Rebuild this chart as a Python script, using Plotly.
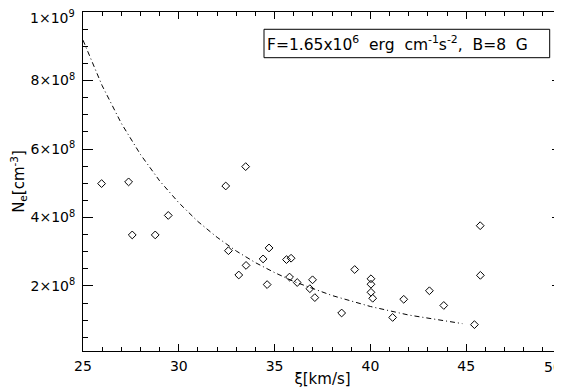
import plotly.graph_objects as go

# Observed points
xi_obs = [25.97, 27.38, 27.57, 28.77, 29.45, 32.45, 33.49, 32.59, 33.51, 33.13,
          34.40, 34.71, 34.61, 35.62, 35.86, 35.78, 36.18, 36.98, 36.84, 37.10,
          38.50, 39.18, 40.03, 40.03, 40.03, 40.12, 41.16, 41.74, 43.08, 43.83,
          45.43, 45.74, 45.73]
ne_obs = [4.99e8, 5.04e8, 3.49e8, 3.49e8, 4.06e8, 4.92e8, 5.485e8, 3.03e8, 2.60e8, 2.32e8,
          2.79e8, 3.11e8, 2.04e8, 2.77e8, 2.81e8, 2.26e8, 2.10e8, 2.18e8, 1.92e8, 1.66e8,
          1.21e8, 2.48e8, 2.21e8, 2.05e8, 1.815e8, 1.64e8, 1.08e8, 1.61e8, 1.86e8, 1.43e8,
          0.87e8, 2.31e8, 3.76e8]

# Model curve
xi_model = [25, 26, 27, 28, 29, 30, 31, 32, 33, 34, 35, 36, 38, 40, 42, 44, 44.8]
ne_model = [9.18e8, 7.85e8, 6.75e8, 5.84e8, 5.07e8, 4.43e8, 3.88e8, 3.42e8, 3.02e8, 2.68e8,
            2.39e8, 2.13e8, 1.72e8, 1.40e8, 1.15e8, 0.96e8, 0.90e8]

y_tickvals = [2e8, 4e8, 6e8, 8e8, 1e9]
y_ticktext = ["2×10<sup>8</sup>", "4×10<sup>8</sup>", "6×10<sup>8</sup>", "8×10<sup>8</sup>", ""]
y_top_label = "1×10<sup>9</sup>"
x_tickvals = [25, 30, 35, 40, 45, 50]
x_ticktext = ["25", "30", "35", "40", "45", ""]
x_last_label = "50"

NB = "\u00a0"
label_text = ("F=1.65x10<sup>6</sup>" + NB + NB + "erg" + NB + NB + "cm<sup>-1</sup>s<sup>-2</sup>,"
              + NB + NB + "B=8" + NB + NB + "G")

FONT = "DejaVu Sans"

fig = go.Figure()
fig.add_trace(go.Scatter(x=xi_model, y=ne_model, mode="lines",
                         line=dict(color="black", width=1, dash="5px,3px,1px,3px"),
                         hoverinfo="skip", showlegend=False))
fig.add_trace(go.Scatter(x=xi_obs, y=ne_obs, mode="markers",
                         marker=dict(symbol="diamond-open", size=6, color="black",
                                     line=dict(width=1, color="black")),
                         showlegend=False))

axis_common = dict(showline=True, linecolor="black", linewidth=1, mirror="ticks",
                   ticks="inside", tickcolor="black", showgrid=False, zeroline=False,
                   automargin=False,
                   tickfont=dict(family=FONT, size=14, color="black"))

fig.update_xaxes(range=[25, 50], tickmode="array", tickvals=x_tickvals, ticktext=x_ticktext,
                 ticklen=7, ticklabelstandoff=2,
                 minor=dict(tickmode="linear", tick0=25, dtick=1, ticklen=4,
                            ticks="inside", tickcolor="black", showgrid=False),
                 title=dict(text="ξ[km/s]", font=dict(family=FONT, size=15, color="black"),
                            standoff=0),
                 **axis_common)
fig.update_yaxes(range=[1e7, 1.0002e9], tickmode="array", tickvals=y_tickvals, ticktext=y_ticktext,
                 ticklen=10, ticklabelstandoff=4,
                 minor=dict(tickmode="linear", tick0=0, dtick=5e7, ticklen=5,
                            ticks="inside", tickcolor="black", showgrid=False),
                 title=dict(text="N<sub>e</sub>[cm<sup>-3</sup>]",
                            font=dict(family=FONT, size=15, color="black"), standoff=15),
                 **axis_common)

fig.add_annotation(xref="paper", yref="paper", x=-0.0125, y=0.985, xanchor="right", yanchor="middle",
                   text=y_top_label, showarrow=False,
                   font=dict(family=FONT, size=14, color="black"))
fig.add_annotation(xref="paper", yref="paper", x=1.0021, y=-0.0472, xanchor="right", yanchor="middle",
                   text=x_last_label, showarrow=False, borderpad=0,
                   font=dict(family=FONT, size=14, color="black"))

fig.add_shape(type="rect", xref="paper", yref="paper", x0=0.3779, x1=0.9743, y0=0.8652, y1=0.949,
              line=dict(color="black", width=1), fillcolor="white")
fig.add_annotation(xref="paper", yref="paper", x=0.3800, y=0.9071, xanchor="left", yanchor="middle",
                   text=label_text, showarrow=False,
                   font=dict(family=FONT, size=15.5, color="black"))

fig.update_layout(width=562, height=387, margin=dict(l=75, r=8, t=4, b=44),
                  plot_bgcolor="white", paper_bgcolor="white")

fig.write_html("out.html")
